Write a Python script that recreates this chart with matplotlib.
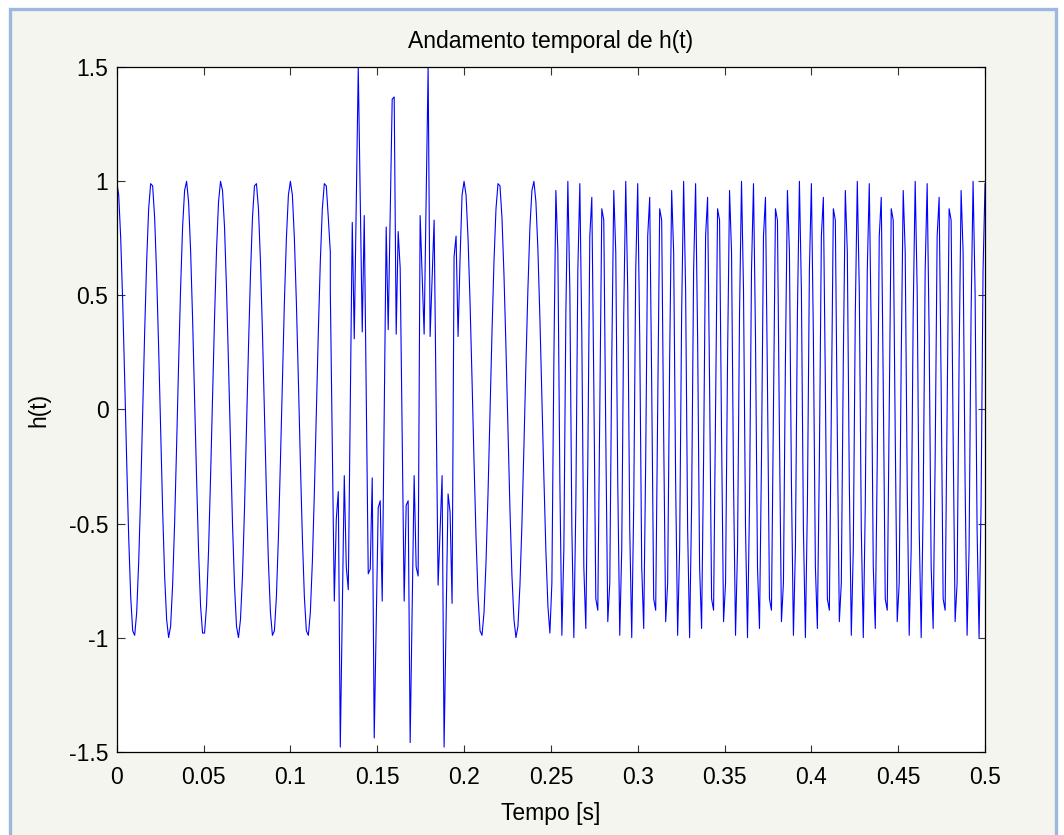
#Andamento temporale del segnale h(t), campionato a fs = 870 Hz
import matplotlib.pyplot as plt
import numpy as np
from matplotlib.patches import Rectangle

plt.rcParams['font.family'] = ['Liberation Sans', 'DejaVu Sans']
plt.rcParams['axes.unicode_minus'] = False

#frequenza di campionamento e indice del primo campione di ogni tratto
fs = 870
inizio = [0, 107, 173, 218]

#tratto 1: sinusoide lenta (0 - 0.123 s)
h1 = [1.00, 0.94, 0.75, 0.47, 0.13, -0.23, -0.56, -0.82, -0.97, -0.99, -0.89, -0.67, -0.37, -0.02, 0.34, 0.65, 0.88, 0.99, 0.98, 0.84,
      0.59, 0.27, -0.09, -0.44, -0.73, -0.92, -1.00, -0.95, -0.77, -0.50, -0.16, 0.20, 0.53, 0.80, 0.96, 1.00, 0.91, 0.70, 0.40, 0.05,
      -0.30, -0.62, -0.86, -0.98, -0.98, -0.86, -0.62, -0.30, 0.05, 0.40, 0.70, 0.91, 1.00, 0.96, 0.80, 0.53, 0.20, -0.16, -0.50, -0.77,
      -0.95, -1.00, -0.92, -0.73, -0.44, -0.09, 0.27, 0.59, 0.84, 0.98, 0.99, 0.88, 0.65, 0.34, -0.02, -0.37, -0.67, -0.89, -0.99, -0.97,
      -0.82, -0.56, -0.23, 0.13, 0.47, 0.75, 0.94,
      1.00, 0.94, 0.75, 0.47, 0.13, -0.23, -0.56, -0.82, -0.97, -0.99, -0.89, -0.67, -0.37, -0.02, 0.34, 0.65, 0.88, 0.99, 0.98, 0.84,
      0.69]
#tratto 2: disturbo (0.123 - 0.198 s)
h2 = [0.52, -0.16, -0.84, -0.48, -0.36, -1.48, -0.89, -0.29, -0.69, -0.79,
      0.02, 0.82, 0.31, 0.90, 1.50, 0.92, 0.34, 0.85, 0.06, -0.72,
      -0.70, -0.30, -1.44, -0.94, -0.43, -0.40, -0.84, -0.02, 0.80, 0.35,
      0.86, 1.36, 1.37, 0.33, 0.78, 0.62, -0.11, -0.84, -0.42, -0.40,
      -1.46, -0.88, -0.29, -0.69, -0.73, 0.85, 0.59, 0.33, 0.91, 1.50,
      0.32, 0.57, 0.83, 0.03, -0.77, -0.53, -0.29, -1.48, -0.93, -0.37,
      -0.45, -0.85, 0.67, 0.76, 0.32, 0.66]
#tratto 3: di nuovo la sinusoide lenta (0.199 - 0.25 s)
h3 = [0.94,
      1.00, 0.94, 0.75, 0.47, 0.13, -0.23, -0.56, -0.82, -0.97, -0.99, -0.89, -0.67, -0.37, -0.02, 0.34, 0.65, 0.88, 0.99, 0.98, 0.84,
      0.59, 0.27, -0.09, -0.44, -0.73, -0.92, -1.00, -0.95, -0.77, -0.50, -0.16, 0.20, 0.53, 0.80, 0.96, 1.00, 0.91, 0.70, 0.40, 0.05,
      -0.30, -0.62, -0.86, -0.98]
#tratto 4: sinusoide veloce (0.25 - 0.5 s)
h4 = [-0.76, 0.22, 0.96, 0.69, -0.32, -0.99, -0.61, 0.42, 1.00, 0.52, -0.52, -1.00, -0.42, 0.61,
      0.99, 0.32, -0.69, -0.96, -0.22, 0.76, 0.93, 0.11, -0.83, -0.88, 0.00, 0.88, 0.83, -0.11, -0.93, -0.76, 0.22, 0.96, 0.69, -0.32, -0.99, -0.61, 0.42, 1.00, 0.52, -0.52, -1.00, -0.42, 0.61,
      0.99, 0.32, -0.69, -0.96, -0.22, 0.76, 0.93, 0.11, -0.83, -0.88, 0.00, 0.88, 0.83, -0.11, -0.93, -0.76, 0.22, 0.96, 0.69, -0.32, -0.99, -0.61, 0.42, 1.00, 0.52, -0.52, -1.00, -0.42, 0.61,
      0.99, 0.32, -0.69, -0.96, -0.22, 0.76, 0.93, 0.11, -0.83, -0.88, 0.00, 0.88, 0.83, -0.11, -0.93, -0.76, 0.22, 0.96, 0.69, -0.32, -0.99, -0.61, 0.42, 1.00, 0.52, -0.52, -1.00, -0.42, 0.61,
      0.99, 0.32, -0.69, -0.96, -0.22, 0.76, 0.93, 0.11, -0.83, -0.88, 0.00, 0.88, 0.83, -0.11, -0.93, -0.76, 0.22, 0.96, 0.69, -0.32, -0.99, -0.61, 0.42, 1.00, 0.52, -0.52, -1.00, -0.42, 0.61,
      0.99, 0.32, -0.69, -0.96, -0.22, 0.76, 0.93, 0.11, -0.83, -0.88, 0.00, 0.88, 0.83, -0.11, -0.93, -0.76, 0.22, 0.96, 0.69, -0.32, -0.99, -0.61, 0.42, 1.00, 0.52, -0.52, -1.00, -0.42, 0.61,
      0.99, 0.32, -0.69, -0.96, -0.22, 0.76, 0.93, 0.11, -0.83, -0.88, 0.00, 0.88, 0.83, -0.11, -0.93, -0.76, 0.22, 0.96, 0.69, -0.32, -0.99, -0.61, 0.42, 1.00, 0.52, -0.52, -1.00, -0.42, 0.61,
      0.99, 0.32, -0.69, -0.96, -0.22, 0.76, 0.93, 0.11, -0.83, -0.88, 0.00, 0.88, 0.83, -0.11, -0.93, -0.76, 0.22, 0.96, 0.69, -0.32, -0.99, -0.61, 0.42, 1.00, 0.52, -0.52, -1.00, -0.42, 0.61,
      0.99]

#etichette degli assi
xticks = [0, 0.05, 0.1, 0.15, 0.2, 0.25, 0.3, 0.35, 0.4, 0.45, 0.5]
xlabels = ['0', '0.05', '0.1', '0.15', '0.2', '0.25', '0.3', '0.35', '0.4', '0.45', '0.5']
yticks = [-1.5, -1, -0.5, 0, 0.5, 1, 1.5]
ylabels = ['-1.5', '-1', '-0.5', '0', '0.5', '1', '1.5']

#tempi di ogni tratto (il tratto 2 riparte dallo stesso istante -> salto verticale)
t = []
h = []
for s, v in zip(inizio, [h1, h2, h3, h4]):
    t.extend((s + np.arange(len(v))) / fs)
    h.extend(v)

fig = plt.figure(figsize=(10.64, 8.35), dpi=100, facecolor='white')
#cornice azzurra con sfondo grigio-verde come nella finestra di MATLAB
fig.patches.append(Rectangle((9.5 / 1064, -0.05), (1056 - 9.5) / 1064, 825.5 / 835 + 0.05,
                             transform=fig.transFigure, facecolor='#f3f5ee',
                             edgecolor='#9db8de', linewidth=2.4, zorder=-10))

ax = fig.add_axes([0.1097, 0.0998, 0.8161, 0.8196])
ax.set_zorder(5)
ax.plot(t, h, color=(0, 0, 1), lw=0.8)
ax.set_xlim(0, 0.5)
ax.set_ylim(-1.5, 1.5)
ax.set_xticks(xticks)
ax.set_xticklabels(xlabels)
ax.set_yticks(yticks)
ax.set_yticklabels(ylabels)
ax.tick_params(direction='in', length=5.4, width=0.8, top=True, right=True,
               labelsize=16.5, color='#333333')
ax.tick_params(axis='x', pad=10.5)
ax.tick_params(axis='y', pad=6)
for sp in ax.spines.values():
    sp.set_linewidth(0.9)

ax.set_title('Andamento temporal de h(t)', fontsize=16.5, pad=14)
ax.set_xlabel('Tempo [s]', fontsize=16.5, labelpad=9)
ax.set_ylabel('h(t)', fontsize=16.5, labelpad=13.5)

fig.savefig('out.png', dpi=100, facecolor=fig.get_facecolor())
